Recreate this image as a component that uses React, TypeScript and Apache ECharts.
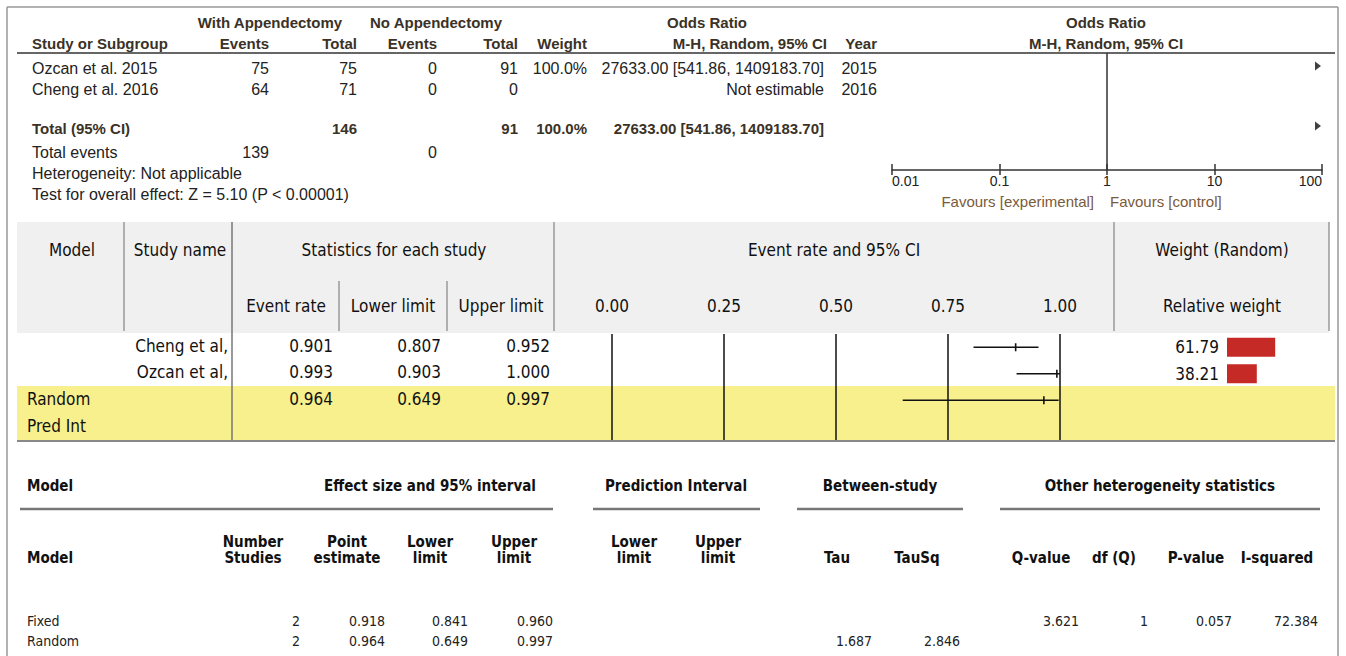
import React, { useEffect, useRef } from "react";
import * as echarts from "echarts";

// ---------------- Top panel (RevMan) data ----------------
const topStudies = ["Ozcan et al. 2015", "Cheng et al. 2016"];
const topExpEvents = [75, 64];
const topExpTotal = [75, 71];
const topCtrlEvents = [0, 0];
const topCtrlTotal = [91, 0];
const topWeight = ["100.0%", ""];
const topOR: (number | null)[] = [27633.0, null];
const topORLow: (number | null)[] = [541.86, null];
const topORHigh: (number | null)[] = [1409183.7, null];
const topYears = [2015, 2016];
const totalExp = 146;
const totalCtrl = 91;
const totalWeight = "100.0%";
const totalOR = 27633.0;
const totalORLow = 541.86;
const totalORHigh = 1409183.7;
const totalEventsExp = 139;
const totalEventsCtrl = 0;
const zValue = 5.1;
const pText = "P < 0.00001";
const orTicks = [0.01, 0.1, 1, 10, 100];
const topRows = ["Ozcan et al. 2015", "Cheng et al. 2016", "", "Total (95% CI)"];

// ---------------- Middle panel (CMA) data ----------------
const cmaRows = ["Cheng et al,", "Ozcan et al,", "Random", "Pred Int"];
const cmaStudies = ["Cheng et al,", "Ozcan et al,"];
const eventRate = [0.901, 0.993, 0.964];
const lowerLimit = [0.807, 0.903, 0.649];
const upperLimit = [0.952, 1.0, 0.997];
const relWeight = [61.79, 38.21];
const rateTicks = [0, 0.25, 0.5, 0.75, 1];

// ---------------- Bottom panel data ----------------
const modelNames = ["Fixed", "Random"];
const numStudies = [2, 2];
const pointEst = [0.918, 0.964];
const effLower = [0.841, 0.649];
const effUpper = [0.96, 0.997];
const tauVal = 1.687;
const tauSqVal = 2.846;
const qValue = 3.621;
const dfQ = 1;
const pValue = 0.057;
const iSquared = 72.384;

// ---------------- helpers ----------------
const FT = "'Liberation Sans', Arial, sans-serif";
const FN = "'Liberation Sans Narrow', 'DejaVu Sans Condensed', 'Arial Narrow', sans-serif";

function txt(text: any, x: number, y: number, o: any = {}) {
  const align = o.align || "left";
  const size = o.size || 16;
  const weight = o.bold ? "bold" : "normal";
  const fam = o.family || FT;
  return {
    type: "text",
    x,
    y,
    z: 10,
    silent: true,
    style: {
      text: String(text),
      fill: o.fill || "#222",
      font: `${weight} ${size}px ${fam}`,
      fontSize: size,
      fontWeight: weight,
      fontFamily: fam,
      align,
      textAlign: align,
      verticalAlign: "middle",
      textVerticalAlign: "middle",
      lineHeight: o.lineHeight || size + 2,
    },
  };
}
function ln(x1: number, y1: number, x2: number, y2: number, stroke = "#888", lineWidth = 1.5) {
  return { type: "line", z: 2, silent: true, shape: { x1, y1, x2, y2 }, style: { stroke, lineWidth } };
}
function rc(x: number, y: number, width: number, height: number, fill: string) {
  return { type: "rect", z: 0, silent: true, shape: { x, y, width, height }, style: { fill } };
}
const f2 = (v: number) => v.toFixed(2);
const f3 = (v: number) => v.toFixed(3);
const orStr = (v: number, lo: number, hi: number) => `${f2(v)} [${f2(lo)}, ${f2(hi)}]`;

function buildGraphics() {
  const g: any[] = [];
  // frame
  g.push(ln(7, 7, 1338, 7, "#999", 1.5));
  g.push(ln(7, 7, 7, 660, "#999", 1.5));
  g.push(ln(1338, 7, 1338, 660, "#999", 1.5));

  // ---------- top panel ----------
  const hc = "#3a3226";
  const B = { bold: true, fill: hc, size: 15 };
  g.push(txt("With Appendectomy", 270, 22, { ...B, align: "center" }));
  g.push(txt("No Appendectomy", 436, 22, { ...B, align: "center" }));
  g.push(txt("Odds Ratio", 707, 22, { ...B, align: "center" }));
  g.push(txt("Odds Ratio", 1106, 22, { ...B, align: "center" }));
  g.push(txt("Study or Subgroup", 32, 43, B));
  g.push(txt("Events", 269, 43, { ...B, align: "right" }));
  g.push(txt("Total", 357, 43, { ...B, align: "right" }));
  g.push(txt("Events", 437, 43, { ...B, align: "right" }));
  g.push(txt("Total", 518, 43, { ...B, align: "right" }));
  g.push(txt("Weight", 587, 43, { ...B, align: "right" }));
  g.push(txt("M-H, Random, 95% CI", 827, 43, { ...B, align: "right" }));
  g.push(txt("Year", 877, 43, { ...B, align: "right" }));
  g.push(txt("M-H, Random, 95% CI", 1106, 43, { ...B, align: "center" }));
  g.push(ln(17, 53, 1335, 53, "#666", 2));

  const rowY = [68, 89];
  topStudies.forEach((s, i) => {
    const y = rowY[i];
    g.push(txt(s, 32, y));
    g.push(txt(topExpEvents[i], 269, y, { align: "right" }));
    g.push(txt(topExpTotal[i], 357, y, { align: "right" }));
    g.push(txt(topCtrlEvents[i], 437, y, { align: "right" }));
    g.push(txt(topCtrlTotal[i], 518, y, { align: "right" }));
    if (topWeight[i]) g.push(txt(topWeight[i], 587, y, { align: "right" }));
    const o = topOR[i];
    g.push(
      txt(o != null ? orStr(o, topORLow[i] as number, topORHigh[i] as number) : "Not estimable", 824, y, {
        align: "right",
      })
    );
    g.push(txt(topYears[i], 877, y, { align: "right" }));
  });
  g.push(txt("Total (95% CI)", 32, 128, B));
  g.push(txt(totalExp, 357, 128, { ...B, align: "right" }));
  g.push(txt(totalCtrl, 518, 128, { ...B, align: "right" }));
  g.push(txt(totalWeight, 587, 128, { ...B, align: "right" }));
  g.push(txt(orStr(totalOR, totalORLow, totalORHigh), 824, 128, { ...B, align: "right" }));
  g.push(txt("Total events", 32, 152));
  g.push(txt(totalEventsExp, 269, 152, { align: "right" }));
  g.push(txt(totalEventsCtrl, 437, 152, { align: "right" }));
  g.push(txt("Heterogeneity: Not applicable", 32, 173));
  g.push(txt(`Test for overall effect: Z = ${f2(zValue)} (${pText})`, 32, 194));
  const fav = "#7a5a3a";
  g.push(txt("Favours [experimental]", 1094, 201, { align: "right", fill: fav, size: 15 }));
  g.push(txt("Favours [control]", 1110, 201, { align: "left", fill: fav, size: 15 }));

  // ---------- middle panel ----------
  g.push(rc(17, 222, 1312, 111, "#f0f0f0"));
  g.push(rc(17, 386, 1318, 54, "#f7f08c"));
  const sep = "#9a9a9a";
  g.push(ln(124, 222, 124, 331, sep, 1.5));
  g.push(ln(232, 222, 232, 440, "#777", 1.5));
  g.push(ln(339, 281, 339, 331, sep, 1.5));
  g.push(ln(447, 281, 447, 331, sep, 1.5));
  g.push(ln(554, 222, 554, 331, sep, 1.5));
  g.push(ln(1114, 222, 1114, 331, sep, 1.5));
  g.push(ln(1329, 222, 1329, 331, sep, 1.5));
  g.push(ln(17, 441, 1335, 441, "#888", 2));
  const M = { family: FN, size: 17, fill: "#111" };
  g.push(txt("Model", 72, 250, { ...M, align: "center" }));
  g.push(txt("Study name", 180, 250, { ...M, align: "center" }));
  g.push(txt("Statistics for each study", 394, 250, { ...M, align: "center" }));
  g.push(txt("Event rate", 286, 306, { ...M, align: "center" }));
  g.push(txt("Lower limit", 393, 306, { ...M, align: "center" }));
  g.push(txt("Upper limit", 501, 306, { ...M, align: "center" }));
  g.push(txt("Event rate and 95% CI", 834, 250, { ...M, align: "center" }));
  g.push(txt("Weight (Random)", 1222, 250, { ...M, align: "center" }));
  g.push(txt("Relative weight", 1222, 306, { ...M, align: "center" }));
  const cmaY = [346, 372, 399, 426];
  cmaStudies.forEach((s, i) => g.push(txt(s, 228, cmaY[i], { ...M, align: "right" })));
  g.push(txt("Random", 27, cmaY[2], M));
  g.push(txt("Pred Int", 27, cmaY[3], M));
  eventRate.forEach((r, i) => {
    g.push(txt(f3(r), 333, cmaY[i], { ...M, align: "right" }));
    g.push(txt(f3(lowerLimit[i]), 441, cmaY[i], { ...M, align: "right" }));
    g.push(txt(f3(upperLimit[i]), 550, cmaY[i], { ...M, align: "right" }));
  });

  // ---------- bottom panel ----------
  const H = { family: FN, size: 15, bold: true, fill: "#111" };
  const D = { family: FN, size: 14, fill: "#222" };
  g.push(txt("Model", 27, 486, H));
  g.push(txt("Effect size and 95% interval", 430, 486, { ...H, align: "center" }));
  g.push(txt("Prediction Interval", 676, 486, { ...H, align: "center" }));
  g.push(txt("Between-study", 880, 486, { ...H, align: "center" }));
  g.push(txt("Other heterogeneity statistics", 1160, 486, { ...H, align: "center" }));
  g.push(ln(20, 509, 553, 509, "#777", 2.5));
  g.push(ln(593, 509, 760, 509, "#777", 2.5));
  g.push(ln(797, 509, 963, 509, "#777", 2.5));
  g.push(ln(1000, 509, 1320, 509, "#777", 2.5));
  g.push(txt("Model", 27, 558, H));
  const two = (a: string, x: number) => {
    g.push(txt(a.split("\n")[0], x, 542, { ...H, align: "center" }));
    g.push(txt(a.split("\n")[1], x, 558, { ...H, align: "center" }));
  };
  two("Number\nStudies", 253);
  two("Point\nestimate", 347);
  two("Lower\nlimit", 430);
  two("Upper\nlimit", 514);
  two("Lower\nlimit", 634);
  two("Upper\nlimit", 718);
  g.push(txt("Tau", 837, 558, { ...H, align: "center" }));
  g.push(txt("TauSq", 917, 558, { ...H, align: "center" }));
  g.push(txt("Q-value", 1041, 558, { ...H, align: "center" }));
  g.push(txt("df (Q)", 1114, 558, { ...H, align: "center" }));
  g.push(txt("P-value", 1196, 558, { ...H, align: "center" }));
  g.push(txt("I-squared", 1277, 558, { ...H, align: "center" }));
  const botY = [621, 641];
  modelNames.forEach((m, i) => {
    const y = botY[i];
    g.push(txt(m, 27, y, D));
    g.push(txt(numStudies[i], 300, y, { ...D, align: "right" }));
    g.push(txt(f3(pointEst[i]), 385, y, { ...D, align: "right" }));
    g.push(txt(f3(effLower[i]), 468, y, { ...D, align: "right" }));
    g.push(txt(f3(effUpper[i]), 553, y, { ...D, align: "right" }));
  });
  g.push(txt(f3(qValue), 1079, botY[0], { ...D, align: "right" }));
  g.push(txt(dfQ, 1148, botY[0], { ...D, align: "right" }));
  g.push(txt(f3(pValue), 1232, botY[0], { ...D, align: "right" }));
  g.push(txt(f3(iSquared), 1318, botY[0], { ...D, align: "right" }));
  g.push(txt(f3(tauVal), 872, botY[1], { ...D, align: "right" }));
  g.push(txt(f3(tauSqVal), 960, botY[1], { ...D, align: "right" }));
  return g;
}

export default function App() {
  const ref = useRef<HTMLDivElement>(null);
  useEffect(() => {
    if (!ref.current) return;
    const chart = echarts.init(ref.current, null, { renderer: "svg" });
    const orMax = orTicks[orTicks.length - 1];
    const arrowData: any[] = [];
    topOR.forEach((v, i) => {
      if (v != null && v > orMax) arrowData.push([orMax, topRows[i]]);
    });
    if (totalOR > orMax) arrowData.push([orMax, topRows[3]]);

    const option: any = {
      animation: false,
      backgroundColor: "#fff",
      grid: [
        { left: 892, top: 53, width: 430, height: 117 },
        { left: 892, top: 56, width: 430, height: 80 },
        { left: 612, top: 334, width: 448, height: 106 },
        { left: 1227, top: 334, width: 78, height: 106 },
      ],
      xAxis: [
        {
          gridIndex: 0,
          type: "log",
          logBase: 10,
          min: orTicks[0],
          max: orMax,
          position: "bottom",
          axisLine: { show: true, lineStyle: { color: "#333", width: 1.5 } },
          axisTick: { show: true, length: 5, lineStyle: { color: "#333", width: 1.5 } },
          axisLabel: {
            color: "#222",
            fontSize: 14,
            fontFamily: FT,
            margin: 4,
            alignMinLabel: "left",
            alignMaxLabel: "right",
            formatter: (v: number) => String(v),
          },
          splitLine: { show: false },
        },
        {
          gridIndex: 0,
          type: "log",
          logBase: 10,
          min: orTicks[0],
          max: orMax,
          position: "bottom",
          axisLine: { show: false },
          axisTick: { show: true, inside: true, length: 6, lineStyle: { color: "#333", width: 1.5 } },
          axisLabel: { show: false },
          splitLine: { show: false },
        },
        { gridIndex: 1, type: "log", logBase: 10, min: orTicks[0], max: orMax, show: false },
        {
          gridIndex: 2,
          type: "value",
          min: rateTicks[0],
          max: rateTicks[rateTicks.length - 1],
          interval: rateTicks[1] - rateTicks[0],
          position: "top",
          axisLine: { show: false },
          axisTick: { show: false },
          axisLabel: {
            color: "#111",
            fontSize: 17,
            fontFamily: FN,
            margin: 20,
            formatter: (v: number) => v.toFixed(2),
          },
          splitLine: { show: true, lineStyle: { color: "#111", width: 1.5 } },
        },
        { gridIndex: 3, type: "value", min: 0, max: 100, show: false },
      ],
      yAxis: [
        { gridIndex: 0, type: "value", min: 0, max: 1, show: false },
        { gridIndex: 1, type: "category", data: topRows, inverse: true, show: false },
        { gridIndex: 2, type: "category", data: cmaRows, inverse: true, show: false },
        { gridIndex: 3, type: "category", data: cmaRows, inverse: true, show: false },
      ],
      graphic: buildGraphics(),
      series: [
        {
          type: "scatter",
          xAxisIndex: 0,
          yAxisIndex: 0,
          data: [[1, 0.5]],
          symbolSize: 0,
          silent: true,
          markLine: {
            silent: true,
            symbol: "none",
            label: { show: false },
            lineStyle: { color: "#333", width: 1.5, type: "solid" },
            data: [{ xAxis: 1 }],
          },
        },
        {
          type: "scatter",
          xAxisIndex: 2,
          yAxisIndex: 1,
          data: arrowData,
          symbol: "path://M0,0L6,4.5L0,9Z",
          symbolSize: [6, 9],
          symbolOffset: [-4, 0],
          itemStyle: { color: "#111" },
          silent: true,
        },
        {
          type: "custom",
          xAxisIndex: 3,
          yAxisIndex: 2,
          z: 5,
          silent: true,
          encode: { x: [0, 1, 2], y: 3 },
          data: eventRate.map((r, i) => [lowerLimit[i], r, upperLimit[i], i]),
          renderItem: (params: any, api: any) => {
            const row = api.value(3);
            const lo = api.coord([api.value(0), row]);
            const pt = api.coord([api.value(1), row]);
            const hi = api.coord([api.value(2), row]);
            const st = { stroke: "#111", lineWidth: 1.6 };
            return {
              type: "group",
              children: [
                { type: "line", shape: { x1: lo[0], y1: lo[1], x2: hi[0], y2: hi[1] }, style: st },
                { type: "line", shape: { x1: pt[0], y1: pt[1] - 4, x2: pt[0], y2: pt[1] + 4 }, style: st },
              ],
            };
          },
        },
        {
          type: "bar",
          xAxisIndex: 4,
          yAxisIndex: 3,
          z: 5,
          silent: true,
          data: relWeight,
          barWidth: 19,
          itemStyle: { color: "#c62a27" },
          label: {
            show: true,
            position: "left",
            distance: 8,
            color: "#111",
            fontSize: 17,
            fontFamily: FN,
            formatter: (p: any) => Number(p.value).toFixed(2),
          },
        },
      ],
    };
    chart.setOption(option);
    return () => chart.dispose();
  }, []);
  return (
    <div
      ref={ref}
      style={{ position: "absolute", left: 0, top: 0, width: 1346, height: 656, background: "#fff" }}
    />
  );
}
